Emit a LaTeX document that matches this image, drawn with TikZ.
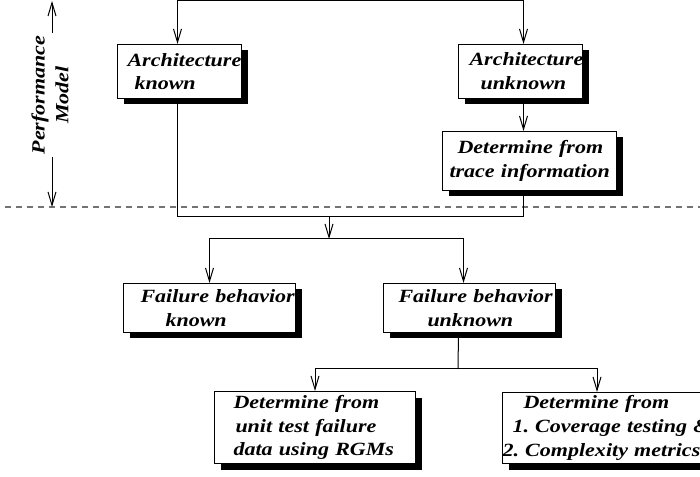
\documentclass[tikz,border=0pt]{standalone}
\usepackage{fontspec}
\usetikzlibrary{arrows.meta,shadows}
\newfontfamily\boxfont[FakeStretch=1.18]{Liberation Serif}
\newcommand{\bline}[2]{\hspace*{#1}\mbox{#2}}

\begin{document}
\begin{tikzpicture}[x=0.75pt,y=-0.75pt,line width=0.75pt,
  box/.style={rectangle,draw,fill=white,inner xsep=0pt,inner ysep=0pt,align=left,
    font=\boxfont\bfseries\itshape\fontsize{14}{17.8}\selectfont,anchor=north west,
    drop shadow={shadow xshift=4.5pt,shadow yshift=-4.5pt,fill=black,opacity=1}},
  arr/.style={-{Straight Barb[length=10pt,width=6pt]}},
  sep/.style={draw=black!55,line width=1pt,dash pattern=on 4.5pt off 3.75pt}]
\clip (0,0) rectangle (700,477);

\node [box,text width=93pt,minimum height=40.5pt] (ak) at (117,44)
  {\bline{7.5pt}{Architecture}\\\bline{12.75pt}{known}};
\node [box,text width=93pt,minimum height=40.5pt] (au) at (458,44)
  {\bline{8.25pt}{Architecture}\\\bline{16.5pt}{unknown}};
\node [box,text width=130.5pt,minimum height=44.25pt] (tr) at (442,131)
  {\bline{11.25pt}{Determine from}\\\bline{5.25pt}{trace information}};
\node [box,text width=129pt,minimum height=36.75pt] (fk) at (123,283)
  {\bline{12.75pt}{Failure behavior}\\\bline{31.5pt}{known}};
\node [box,text width=129pt,minimum height=36.75pt] (fu) at (383,283)
  {\bline{11.25pt}{Failure behavior}\\\bline{33pt}{unknown}};
\node [box,text width=150.75pt,minimum height=54pt] (rgm) at (214,391)
  {\bline{14.25pt}{Determine from}\\\bline{15.75pt}{unit test failure}\\\bline{14.25pt}{data using RGMs}};
\node [box,text width=172.5pt,minimum height=53.25pt] (cov) at (502,392)
  {\bline{15.75pt}{Determine from}\\\bline{7.5pt}{1.\ Coverage testing \&}\\\bline{0pt}{2.\ Complexity metrics}};

\node [font=\boxfont\bfseries\itshape\fontsize{14}{17.8}\selectfont,align=center,rotate=90,inner sep=1.5pt] (pm) at (50,95)
  {Performance\\Model};

\coordinate (in) at (347,-10);
\coordinate (top) at (347,1);
\coordinate (pmt) at (52,1);
\coordinate (pmb) at (52,207);
\coordinate (j1) at (329,217);
\coordinate (j2) at (329,239);
\coordinate (j3) at (458,369);

\draw [sep] (5,207) -- (700,207);

\draw (in) -- (top);
\draw [arr] (top) -| ([xshift=-1.5pt]ak.north);
\draw [arr] (top) -| ([xshift=2.25pt]au.north);
\draw [arr] ([xshift=2.25pt]au.south) -- ([xshift=2.25pt]au.south |- tr.north);
\draw ([xshift=-1.5pt]ak.south) |- ([xshift=2.25pt]au.south |- j1) -- ([xshift=2.25pt]au.south |- tr.south);
\draw [arr] (j1) -- (j2);
\draw [arr] (j2) -| (fk.north);
\draw [arr] (j2) -| ([xshift=-4.5pt]fu.north);
\draw ([xshift=-8.25pt]fu.south) -- (j3);
\draw [arr] (j3) -| (rgm.north);
\draw [arr] (j3) -| ([xshift=71.25pt]cov.north west);

\draw [arr] ([xshift=1.5pt]pm.east) -- (pmt);
\draw [arr] ([xshift=1.5pt]pm.west) -- (pmb);
\end{tikzpicture}
\end{document}
